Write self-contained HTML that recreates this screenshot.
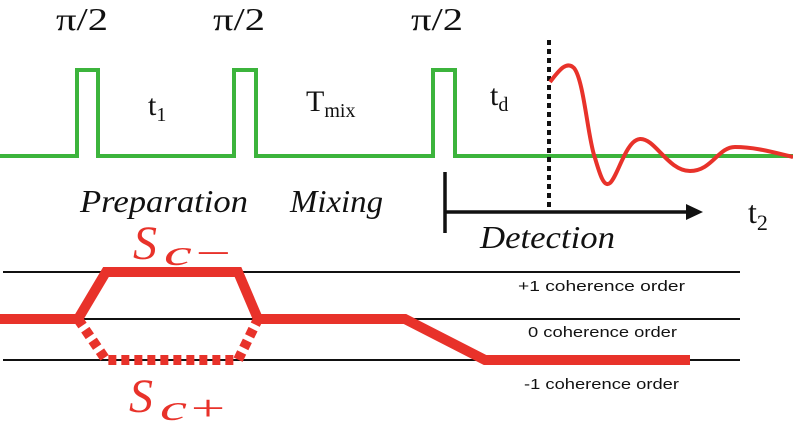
<!DOCTYPE html>
<html><head><style>
html,body{margin:0;padding:0;background:#fff;}
svg{display:block;}
</style></head><body>
<svg width="793" height="429" viewBox="0 0 793 429" xmlns="http://www.w3.org/2000/svg">
<g font-family="Liberation Serif, serif" fill="#111">
<text x="56" y="30" font-size="32" textLength="52" lengthAdjust="spacingAndGlyphs">π/2</text>
<text x="213" y="30" font-size="32" textLength="52" lengthAdjust="spacingAndGlyphs">π/2</text>
<text x="411" y="30" font-size="32" textLength="52" lengthAdjust="spacingAndGlyphs">π/2</text>
<text x="148" y="115" font-size="30">t<tspan font-size="20" dy="6">1</tspan></text>
<text x="306" y="111" font-size="30">T<tspan font-size="20" dy="6">mix</tspan></text>
<text x="490" y="105" font-size="30">t<tspan font-size="20" dy="6">d</tspan></text>
<text x="748" y="223" font-size="32">t<tspan font-size="22" dy="7">2</tspan></text>
<text x="80" y="212" font-size="32" font-style="italic" textLength="168" lengthAdjust="spacingAndGlyphs">Preparation</text>
<text x="290" y="212" font-size="32" font-style="italic" textLength="93" lengthAdjust="spacingAndGlyphs">Mixing</text>
<text x="480" y="248" font-size="32" font-style="italic" textLength="135" lengthAdjust="spacingAndGlyphs">Detection</text>
</g>
<path d="M0 156 H77 V70 H98 V156 H234 V70 H256 V156 H433 V70 H455 V156 H793" fill="none" stroke="#3cb43c" stroke-width="4"/>
<line x1="549" y1="40" x2="549" y2="208" stroke="#111" stroke-width="4" stroke-dasharray="5,4"/>
<path d="M550 82 C558 72 566 60 574 68 C584 80 588 140 595 158 C600 175 604 188 610 183 C618 176 626 140 640 139 C655 138 668 171 690 171 C712 171 718 147 735 147 C755 147 772 152 793 157" fill="none" stroke="#e8322a" stroke-width="4"/>
<line x1="446" y1="212" x2="690" y2="212" stroke="#111" stroke-width="3.5"/>
<polygon points="703,212 686,204 686,220" fill="#111"/>
<line x1="445" y1="172" x2="445" y2="233" stroke="#111" stroke-width="3.5"/>
<g stroke="#111" stroke-width="2">
<line x1="3" y1="272" x2="740" y2="272"/>
<line x1="3" y1="319" x2="740" y2="319"/>
<line x1="3" y1="360" x2="740" y2="360"/>
</g>
<g font-family="Liberation Sans, sans-serif" font-size="15" fill="#111">
<text x="518" y="291" textLength="167" lengthAdjust="spacingAndGlyphs">+1 coherence order</text>
<text x="528" y="337" textLength="149" lengthAdjust="spacingAndGlyphs">0 coherence order</text>
<text x="524" y="389" textLength="155" lengthAdjust="spacingAndGlyphs">-1 coherence order</text>
</g>
<path d="M0 319 H78 L106 272 H238 L258 319 H405 L485 360 H690" fill="none" stroke="#e8322a" stroke-width="10" stroke-linejoin="miter"/>
<path d="M78 319 L106 360 H238 L258 319" fill="none" stroke="#e8322a" stroke-width="10" stroke-dasharray="8,5"/>
<g font-family="Liberation Serif, serif" font-style="italic" fill="#e8322a">
<text x="133" y="259" font-size="48">S</text>
<text x="164" y="265" font-size="36" textLength="70" lengthAdjust="spacingAndGlyphs">c−</text>
<text x="129" y="412" font-size="48">S</text>
<text x="160" y="420" font-size="36" textLength="68" lengthAdjust="spacingAndGlyphs">c+</text>
</g>
</svg>
</body></html>
